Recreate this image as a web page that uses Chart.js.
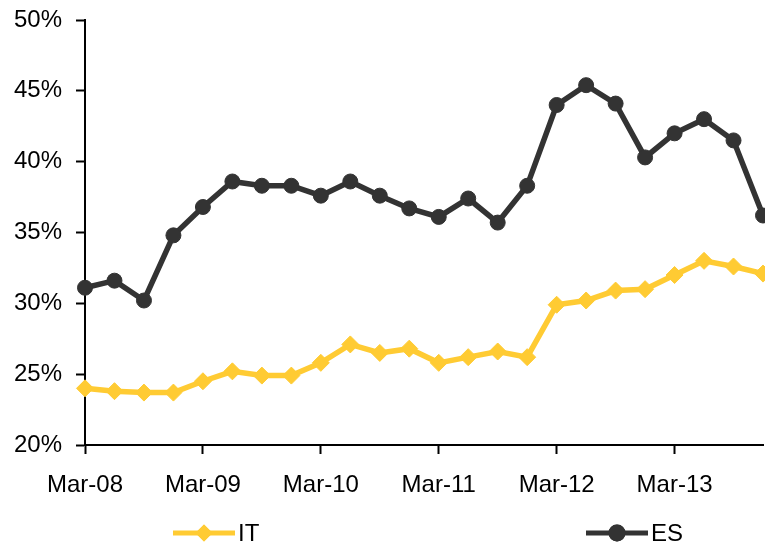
<!DOCTYPE html>
<html>
<head>
<meta charset="utf-8">
<script src="https://cdn.jsdelivr.net/npm/chart.js@4.4.1/dist/chart.umd.min.js"></script>
<style>
  html, body { margin: 0; padding: 0; background: #fff; }
  #wrap { width: 765px; height: 545px; }
</style>
</head>
<body>
<div id="wrap"><canvas id="chart_lines" width="765" height="545"></canvas></div>
<script>
// quarterly observations, Mar-08 .. Dec-13
const quarters = [
  "Mar-08", "Jun-08", "Sep-08", "Dec-08",
  "Mar-09", "Jun-09", "Sep-09", "Dec-09",
  "Mar-10", "Jun-10", "Sep-10", "Dec-10",
  "Mar-11", "Jun-11", "Sep-11", "Dec-11",
  "Mar-12", "Jun-12", "Sep-12", "Dec-12",
  "Mar-13", "Jun-13", "Sep-13", "Dec-13"
];

const it_values = [
  24.0, 23.8, 23.7, 23.7,
  24.5, 25.2, 24.9, 24.9,
  25.8, 27.1, 26.5, 26.8,
  25.8, 26.2, 26.6, 26.2,
  29.9, 30.2, 30.9, 31.0,
  32.0, 33.0, 32.6, 32.1
];

const es_values = [
  31.1, 31.6, 30.2, 34.8,
  36.8, 38.6, 38.3, 38.3,
  37.6, 38.6, 37.6, 36.7,
  36.1, 37.4, 35.7, 38.3,
  44.0, 45.4, 44.1, 40.3,
  42.0, 43.0, 41.5, 36.2
];

const y_ticks_min = 20;
const y_ticks_max = 50;
const y_ticks_step = 5;

const col_IT = "#FFCB33";
const col_ES = "#333333";
const fontFamily = "'Liberation Sans', Arial, sans-serif";

// legend drawn by hand: line + marker + label, as in the original
const legendPlugin = {
  id: "lineLegend",
  afterDraw(chart) {
    const ctx = chart.ctx;
    const items = [
      { text: "IT", color: col_IT, style: "rectRot", x0: 173, x1: 235 },
      { text: "ES", color: col_ES, style: "circle", x0: 586, x1: 648 }
    ];
    const y = 533;
    ctx.save();
    items.forEach(it => {
      ctx.strokeStyle = it.color;
      ctx.lineWidth = 5;
      ctx.beginPath();
      ctx.moveTo(it.x0, y);
      ctx.lineTo(it.x1, y);
      ctx.stroke();
      ctx.fillStyle = it.color;
      Chart.helpers.drawPoint(ctx, { pointStyle: it.style, radius: 8.5, rotation: 0, borderWidth: 0 }, (it.x0 + it.x1) / 2, y);
      ctx.fill();
      ctx.fillStyle = "#000";
      ctx.font = "24px " + fontFamily;
      ctx.textBaseline = "middle";
      ctx.textAlign = "left";
      ctx.fillText(it.text, it.x1 + 3, y + 1);
    });
    ctx.restore();
  }
};

const config_lines = {
  type: "line",
  data: {
    labels: quarters,
    datasets: [
      {
        label: "IT",
        data: it_values,
        borderColor: col_IT,
        backgroundColor: col_IT,
        borderWidth: 5.5,
        pointStyle: "rectRot",
        pointRadius: 8.5,
        pointBorderWidth: 1,
        pointBorderColor: col_IT,
        pointBackgroundColor: col_IT,
        tension: 0,
        clip: false
      },
      {
        label: "ES",
        data: es_values,
        borderColor: col_ES,
        backgroundColor: col_ES,
        borderWidth: 5.5,
        pointStyle: "circle",
        pointRadius: 7.5,
        pointBorderWidth: 1,
        pointBorderColor: col_ES,
        pointBackgroundColor: col_ES,
        tension: 0,
        clip: false
      }
    ]
  },
  options: {
    responsive: false,
    animation: false,
    layout: {
      autoPadding: false,
      padding: { top: 20, right: 2, bottom: 40, left: 0 }
    },
    plugins: {
      legend: { display: false },
      tooltip: { enabled: false },
      title: { display: false }
    },
    scales: {
      x: {
        type: "category",
        offset: false,
        border: { display: true, color: "#000", width: 2 },
        grid: {
          display: true,
          drawOnChartArea: false,
          drawTicks: true,
          tickLength: 9,
          tickWidth: 2,
          tickColor: c => (quarters[c.index] || "").startsWith("Mar") ? "#000" : "rgba(0,0,0,0)"
        },
        ticks: {
          autoSkip: false,
          maxRotation: 0,
          minRotation: 0,
          padding: 17,
          color: "#000",
          font: { family: fontFamily, size: 24 },
          callback: function (v, i) {
            const lab = quarters[i];
            return lab.startsWith("Mar") ? lab : "";
          }
        },
        afterFit: s => {
          s.height = 60;
          s.paddingLeft = 0;
          s.paddingRight = 0;
        }
      },
      y: {
        min: y_ticks_min,
        max: y_ticks_max,
        border: { display: true, color: "#000", width: 2 },
        grid: {
          display: true,
          drawOnChartArea: false,
          drawTicks: true,
          tickLength: 9,
          tickWidth: 2,
          tickColor: "#000"
        },
        ticks: {
          stepSize: y_ticks_step,
          padding: 14,
          color: "#000",
          font: { family: fontFamily, size: 24 },
          callback: v => v + "%"
        },
        afterFit: s => {
          s.width = 85;
          s.paddingTop = 0;
          s.paddingBottom = 0;
        }
      }
    }
  },
  plugins: [legendPlugin]
};

const ctx_lines = document.getElementById("chart_lines").getContext("2d");
const myChart_lines = new Chart(ctx_lines, config_lines);
</script>
</body>
</html>
